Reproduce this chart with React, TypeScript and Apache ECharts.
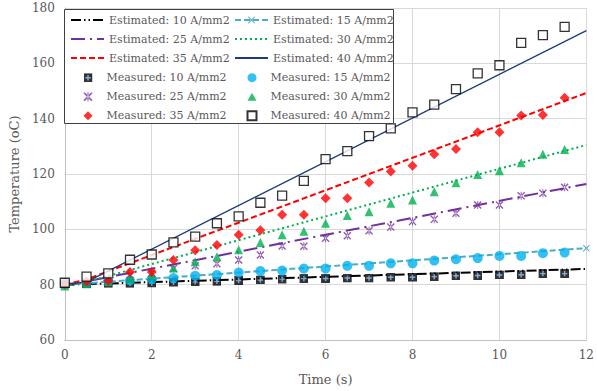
import React, { useEffect, useRef } from "react";
import * as echarts from "echarts";

const measuredTime = [0, 0.5, 1, 1.5, 2, 2.5, 3, 3.5, 4, 4.5, 5, 5.5, 6, 6.5, 7, 7.5, 8, 8.5, 9, 9.5, 10, 10.5, 11, 11.5];
const measured10 = [80.2, 80.3, 80.5, 80.5, 80.6, 80.9, 81.0, 81.2, 81.5, 81.7, 82.0, 82.2, 82.2, 82.4, 82.4, 82.7, 82.7, 82.9, 83.2, 83.3, 83.5, 83.6, 84.0, 84.0];
const measured15 = [80.5, 80.6, 81.2, 81.5, 82.0, 82.4, 83.2, 83.5, 84.4, 84.9, 85.1, 85.8, 85.8, 86.8, 86.8, 87.7, 87.7, 88.7, 89.2, 89.6, 90.4, 90.4, 91.4, 91.6];
const measured25 = [80.0, 80.8, 82.0, 83.5, 84.1, 85.8, 86.8, 87.6, 88.9, 90.7, 94.0, 93.9, 96.8, 97.7, 99.5, 100.8, 102.8, 103.6, 105.8, 108.8, 108.8, 112.1, 113.0, 115.2];
const measured30 = [79.5, 80.3, 81.1, 82.3, 83.5, 86.0, 88.3, 90.1, 92.6, 95.2, 98.0, 99.3, 102.2, 105.0, 106.4, 109.4, 110.6, 113.6, 116.8, 119.8, 121.2, 124.1, 127.1, 128.9];
const measured35 = [80.2, 81.1, 81.4, 84.6, 84.6, 88.9, 92.4, 94.3, 98.0, 99.7, 105.3, 105.3, 111.2, 111.2, 116.9, 120.9, 123.0, 127.1, 129.0, 135.1, 135.1, 141.1, 141.3, 147.6];
const measured40 = [80.7, 82.9, 84.1, 89.0, 90.9, 95.3, 97.4, 102.2, 104.7, 109.6, 112.2, 117.5, 125.4, 128.3, 133.7, 136.5, 142.3, 145.1, 150.7, 156.4, 159.3, 167.4, 170.2, 173.2];

const estimatedTime = [0, 0.5, 12];
const estimated10 = [80, 80.2, 85.7];
const estimated15 = [80, 80.5, 93.2];
const estimated25 = [80, 81.2, 116.4];
const estimated30 = [79.5, 81.0, 130.5];
const estimated35 = [80, 81.9, 149.3];
const estimated40 = [80, 81.0, 171.8];

const legendEstimated1 = ["Estimated: 10 A/mm2", "Estimated: 25 A/mm2", "Estimated: 35 A/mm2"];
const legendEstimated2 = ["Estimated: 15 A/mm2", "Estimated: 30 A/mm2", "Estimated: 40 A/mm2"];
const legendMeasured1 = ["Measured: 10 A/mm2", "Measured: 25 A/mm2", "Measured: 35 A/mm2"];
const legendMeasured2 = ["Measured: 15 A/mm2", "Measured: 30 A/mm2", "Measured: 40 A/mm2"];

const FONT = "DejaVu Serif";
const TEXT = "#595959";

const pair = (xs: number[], ys: number[]) => xs.map((x, i) => [x, ys[i]]);

const markerSvg =
  '<svg xmlns="http://www.w3.org/2000/svg" width="10" height="10"><rect width="10" height="10" fill="#000"/><path d="M5 2V8M2 5H8" stroke="#5b9bd5" stroke-width="1.6"/></svg>';
const squarePlus = "image://data:image/svg+xml;utf8," + encodeURIComponent(markerSvg);
const xMark = "path://M0,1 L1,0 L5,4 L9,0 L10,1 L6,5 L10,9 L9,10 L5,6 L1,10 L0,9 L4,5 Z";
const star = "path://M0,1.2 L1.2,0 L5,3.8 L8.8,0 L10,1.2 L6.2,5 L10,8.8 L8.8,10 L5,6.2 L1.2,10 L0,8.8 L3.8,5 Z M4.4,0 L4.4,10 L5.6,10 L5.6,0 Z";
const squarePath = "path://M0,0 L10,0 L10,10 L0,10 Z";
const diamondPath = "path://M5,0 L10,5 L5,10 L0,5 Z";
const trianglePath = "path://M5,0 L10,9 L0,9 Z";

export default function App() {
  const ref = useRef<HTMLDivElement>(null);
  useEffect(() => {
    if (!ref.current) return;
    const chart = echarts.init(ref.current, undefined, { renderer: "svg" });
    const lineSeries = (name: string, ys: number[], color: string, type: any, width: number, extra: any = {}) => ({
      name,
      type: "line",
      data: pair(estimatedTime, ys),
      symbol: "none",
      lineStyle: { color, type, width },
      itemStyle: { color, opacity: 0 },
      z: 2,
      ...extra,
    });
    const scatterSeries = (name: string, ys: number[], symbol: string, size: number, itemStyle: any) => ({
      name,
      type: "scatter",
      data: pair(measuredTime, ys),
      symbol,
      symbolSize: size,
      itemStyle,
      z: 3,
    });
    const legendBase = {
      orient: "vertical",
      padding: 0,
      itemHeight: 9,
      itemGap: 6,
      z: 20,
      textStyle: { fontFamily: FONT, fontSize: 11, color: TEXT, lineHeight: 13 },
    };
    const estBase = { ...legendBase, top: 13.5, itemWidth: 33 };
    const measBase = {
      ...legendBase,
      top: 71.2,
      itemWidth: 9,
      textStyle: { ...legendBase.textStyle, padding: [0, 0, 0, 9] },
    };
    chart.setOption({
      animation: false,
      grid: { left: 63, right: 7, top: 8, bottom: 51 },
      textStyle: { fontFamily: FONT },
      legend: [
        { ...estBase, left: 70, data: legendEstimated1 },
        { ...estBase, left: 234, data: legendEstimated2 },
        { ...measBase, left: 83.5, data: legendMeasured1 },
        { ...measBase, left: 246.5, data: legendMeasured2 },
      ],
      graphic: [
        {
          type: "rect",
          left: 64,
          top: 9,
          z: 10,
          shape: { width: 329, height: 114 },
          style: { fill: "#ffffff", stroke: "#404040", lineWidth: 1 },
        },
      ],
      xAxis: {
        type: "value",
        min: 0,
        max: 12,
        interval: 2,
        name: "Time (s)",
        nameLocation: "middle",
        nameGap: 33,
        nameTextStyle: { fontFamily: FONT, fontSize: 13, color: TEXT },
        axisLine: { lineStyle: { color: "#bfbfbf" } },
        axisTick: { show: false },
        axisLabel: { fontFamily: FONT, fontSize: 12, color: TEXT, margin: 9 },
        splitLine: { lineStyle: { color: "#d9d9d9" } },
      },
      yAxis: {
        type: "value",
        min: 60,
        max: 180,
        interval: 20,
        name: "Temperature (oC)",
        nameLocation: "middle",
        nameGap: 43,
        nameTextStyle: { fontFamily: FONT, fontSize: 13, color: TEXT },
        axisLine: { show: true, lineStyle: { color: "#bfbfbf" } },
        axisTick: { show: false },
        axisLabel: { fontFamily: FONT, fontSize: 12, color: TEXT, margin: 10 },
        splitLine: { lineStyle: { color: "#d9d9d9" } },
      },
      series: [
        lineSeries("Estimated: 10 A/mm2", estimated10, "#000000", [10, 3, 1.5, 3, 1.5, 3], 2),
        lineSeries("Estimated: 15 A/mm2", estimated15, "#4bacc6", [6, 3], 2, {
          symbol: xMark,
          symbolSize: 7,
          showSymbol: true,
          itemStyle: { color: "#4bacc6" },
        }),
        lineSeries("Estimated: 25 A/mm2", estimated25, "#7030a0", [14, 5, 2, 5], 2),
        lineSeries("Estimated: 30 A/mm2", estimated30, "#00b050", [2, 3], 2),
        lineSeries("Estimated: 35 A/mm2", estimated35, "#ff0000", [6, 3], 2),
        lineSeries("Estimated: 40 A/mm2", estimated40, "#1f3a7a", "solid", 1.3),
        scatterSeries("Measured: 10 A/mm2", measured10, squarePlus, 9, { color: "#000000" }),
        scatterSeries("Measured: 15 A/mm2", measured15, "circle", 10, { color: "#00b0f0" }),
        scatterSeries("Measured: 25 A/mm2", measured25, star, 8, { color: "#7030a0" }),
        scatterSeries("Measured: 30 A/mm2", measured30, trianglePath, 9, { color: "#00b050" }),
        scatterSeries("Measured: 35 A/mm2", measured35, diamondPath, 10, { color: "#ff0000" }),
        scatterSeries("Measured: 40 A/mm2", measured40, squarePath, 9, { color: "#ffffff", borderColor: "#000000", borderWidth: 1.3 }),
      ],
    });
    return () => chart.dispose();
  }, []);
  return <div ref={ref} style={{ width: 597, height: 391, position: "absolute", left: 0, top: 0 }} />;
}
